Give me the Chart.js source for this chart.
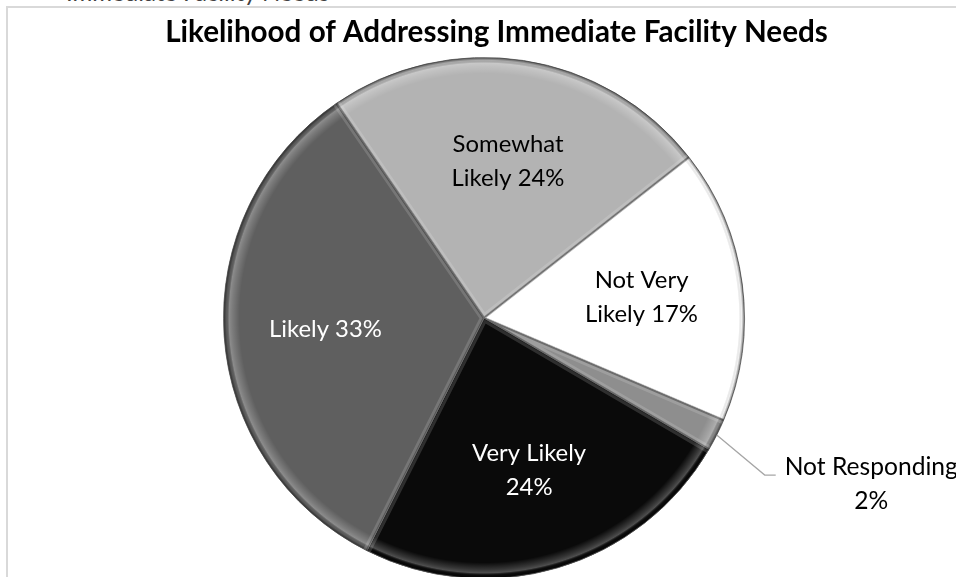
<!DOCTYPE html>
<html><head><meta charset="utf-8">
<script src="https://cdn.jsdelivr.net/npm/chart.js@4"></script>
<style>
html,body{margin:0;padding:0;background:#fff;overflow:hidden;width:956px;height:577px;}
#above{position:absolute;left:66px;top:-20px;font:24px Lato, sans-serif;line-height:24px;color:#404040;white-space:nowrap;}
#frame{position:absolute;left:6px;top:6px;width:1100px;height:800px;border:2px solid #d9d9d9;box-sizing:border-box;}
#wrap{position:absolute;left:0;top:0;width:956px;height:600px;}
</style></head><body>
<div id="above">Immediate Facility Needs</div>
<div id="frame"></div>
<div id="wrap"><canvas id="c"></canvas></div>
<script>
const titleText = 'Likelihood of Addressing Immediate Facility Needs';
const categories = ['Somewhat Likely', 'Not Very Likely', 'Not Responding', 'Very Likely', 'Likely'];
const percentages = [24, 17, 2, 24, 33];
const sliceColors = ['#b3b3b3', '#ffffff', '#8e8e8e', '#0a0a0a', '#5f5f5f'];
const labelColors = ['#000000', '#000000', '#000000', '#ffffff', '#ffffff'];

const FONT = 'Lato, "Open Sans", sans-serif';

function fitSize(ctx, text, weight, target, base) {
  ctx.font = weight + ' ' + base + 'px ' + FONT;
  return base * target / ctx.measureText(text).width;
}

function wrapText(ctx, text, maxW) {
  const words = text.split(' ');
  const lines = [];
  let cur = '';
  for (const w of words) {
    const t = cur ? cur + ' ' + w : w;
    if (cur && ctx.measureText(t).width > maxW) { lines.push(cur); cur = w; }
    else cur = t;
  }
  if (cur) lines.push(cur);
  return lines;
}

const bevelPlugin = {
  id: 'bevel',
  afterDatasetsDraw(chart) {
    const ctx = chart.ctx;
    const meta = chart.getDatasetMeta(0);
    meta.data.forEach((arc) => {
      const p = arc.getProps(['x', 'y', 'startAngle', 'endAngle', 'outerRadius'], true);
      const R = p.outerRadius;
      ctx.save();
      ctx.beginPath();
      ctx.moveTo(p.x, p.y);
      ctx.arc(p.x, p.y, R, p.startAngle, p.endAngle);
      ctx.closePath();
      ctx.clip();
      const g = ctx.createRadialGradient(p.x, p.y, R - 16, p.x, p.y, R);
      g.addColorStop(0, 'rgba(255,255,255,0)');
      g.addColorStop(0.45, 'rgba(255,255,255,0.18)');
      g.addColorStop(0.65, 'rgba(255,255,255,0.28)');
      g.addColorStop(0.82, 'rgba(0,0,0,0.05)');
      g.addColorStop(1, 'rgba(0,0,0,0.55)');
      ctx.fillStyle = g;
      ctx.fillRect(p.x - R, p.y - R, 2 * R, 2 * R);
      ctx.lineJoin = 'round';
      ctx.strokeStyle = 'rgba(255,255,255,0.15)';
      ctx.lineWidth = 8;
      ctx.beginPath();
      ctx.moveTo(p.x + Math.cos(p.startAngle) * R, p.y + Math.sin(p.startAngle) * R);
      ctx.lineTo(p.x, p.y);
      ctx.lineTo(p.x + Math.cos(p.endAngle) * R, p.y + Math.sin(p.endAngle) * R);
      ctx.stroke();
      ctx.strokeStyle = 'rgba(0,0,0,0.3)';
      ctx.lineWidth = 2.5;
      ctx.stroke();
      ctx.restore();
    });
  }
};

const textPlugin = {
  id: 'texts',
  afterDraw(chart) {
    const ctx = chart.ctx;
    ctx.save();
    const ts = fitSize(ctx, titleText, 'bold', 663, 24);
    ctx.font = 'bold ' + ts + 'px ' + FONT;
    ctx.fillStyle = '#000';
    ctx.textAlign = 'center';
    ctx.textBaseline = 'alphabetic';
    ctx.fillText(titleText, 496.5, 42);

    const ls = fitSize(ctx, 'Likely 33%', 'normal', 113, 20);
    ctx.font = ls + 'px ' + FONT;
    ctx.textBaseline = 'middle';
    const lh = 34;
    const meta = chart.getDatasetMeta(0);
    meta.data.forEach((arc, i) => {
      const p = arc.getProps(['x', 'y', 'startAngle', 'endAngle', 'outerRadius'], true);
      const mid = (p.startAngle + p.endAngle) / 2;
      const text = categories[i] + ' ' + percentages[i] + '%';
      ctx.fillStyle = labelColors[i];
      if (percentages[i] < 5) {
        const sx = p.x + Math.cos(mid) * p.outerRadius;
        const sy = p.y + Math.sin(mid) * p.outerRadius;
        const ex = sx + 48, ey = sy + 40;
        const fx = ex + 11;
        ctx.strokeStyle = '#a6a6a6';
        ctx.lineWidth = 1.3;
        ctx.beginPath();
        ctx.moveTo(sx, sy);
        ctx.lineTo(ex, ey);
        ctx.lineTo(fx, ey);
        ctx.stroke();
        ctx.font = (ls * 1.03) + 'px ' + FONT;
        const lines = wrapText(ctx, text, 195);
        const w = Math.max(...lines.map(l => ctx.measureText(l).width));
        const cx = fx + 9 + w / 2;
        lines.forEach((l, k) => ctx.fillText(l, cx, ey - 8 + k * lh));
        ctx.font = ls + 'px ' + FONT;
      } else {
        const r = p.outerRadius * 0.61;
        const cx = p.x + Math.cos(mid) * r;
        const cy = p.y + Math.sin(mid) * r;
        const lines = wrapText(ctx, text, 122);
        lines.forEach((l, k) => ctx.fillText(l, cx, cy + (k - (lines.length - 1) / 2) * lh));
      }
    });
    ctx.restore();
  }
};

new Chart(document.getElementById('c'), {
  type: 'pie',
  data: {
    labels: categories,
    datasets: [{
      data: percentages,
      backgroundColor: sliceColors,
      borderColor: '#808080',
      borderWidth: 1
    }]
  },
  options: {
    responsive: true,
    maintainAspectRatio: false,
    animation: false,
    devicePixelRatio: 1,
    rotation: -34.5,
    layout: { padding: { left: 223, right: 211, top: 57, bottom: 21 } },
    plugins: {
      legend: { display: false },
      title: { display: false },
      tooltip: { enabled: false }
    }
  },
  plugins: [bevelPlugin, textPlugin]
});
</script>
</body></html>
